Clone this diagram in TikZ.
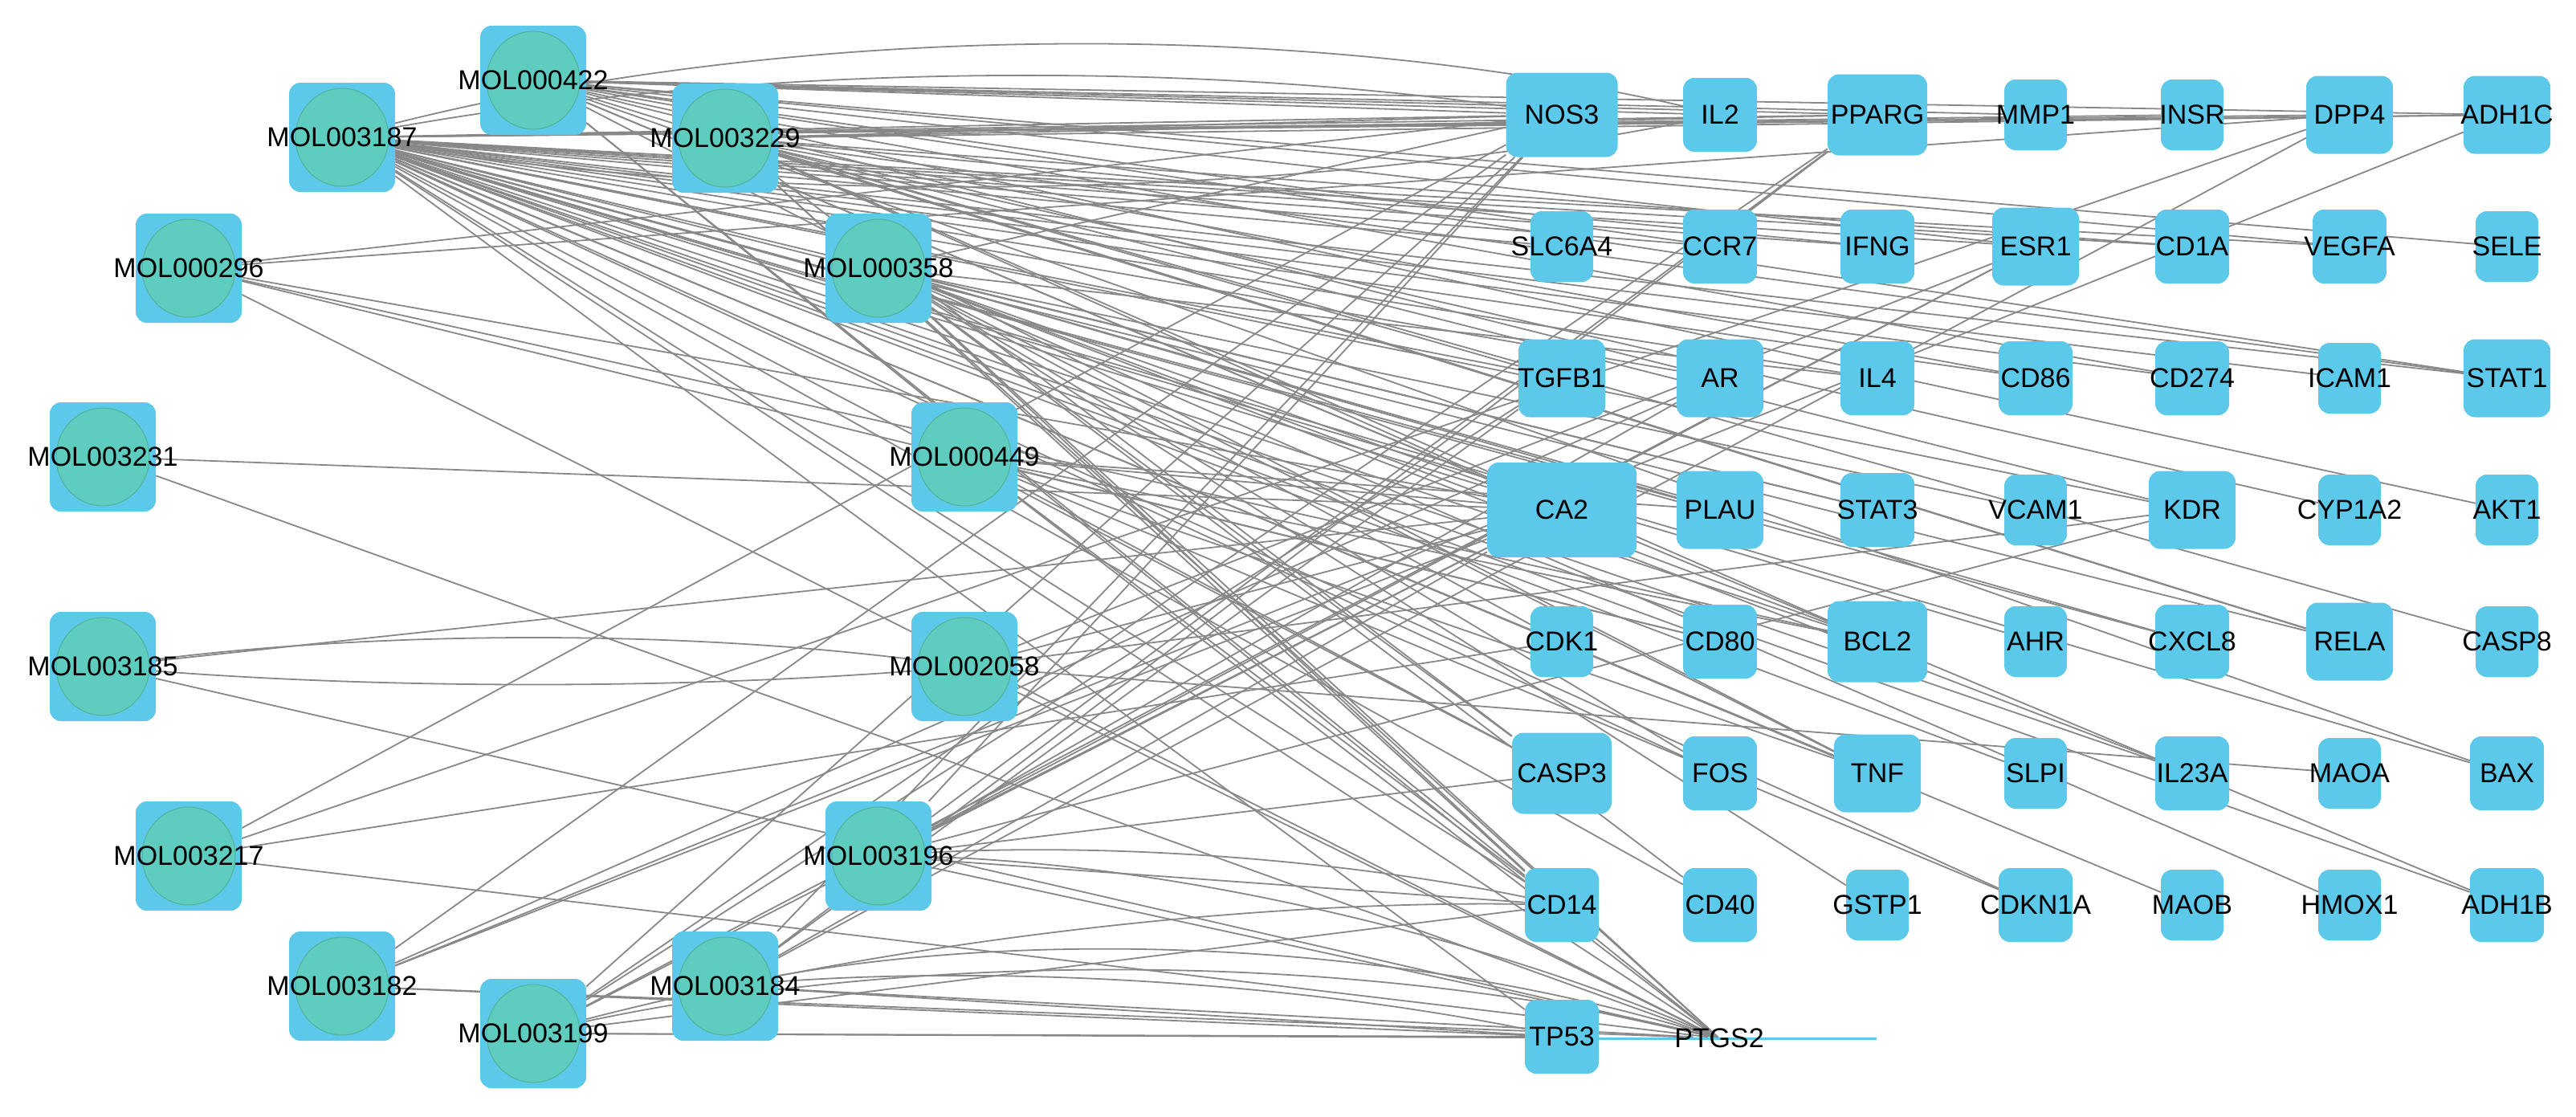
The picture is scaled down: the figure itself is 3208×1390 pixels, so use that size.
\documentclass[tikz,border=0pt]{standalone}
\usepackage{fontspec}
\setmainfont{Liberation Sans}
\usepackage{tikz}
\usetikzlibrary{backgrounds,calc}
\definecolor{nodeblue}{RGB}{92,200,234}
\definecolor{molgreen}{RGB}{94,204,190}
\definecolor{molline}{RGB}{82,178,150}
\definecolor{edgegray}{RGB}{136,136,136}

\begin{document}
\begin{tikzpicture}[
x=1pt, y=-1pt,
font=\fontsize{34pt}{40pt}\selectfont,
mol/.style={
	rectangle, rounded corners=14pt, fill=nodeblue,
	minimum width=132pt, minimum height=136pt, inner sep=0pt,
	path picture={\filldraw[fill=molgreen, draw=molline, line width=1pt]
		(path picture bounding box.center) ellipse [x radius=58pt, y radius=61pt];}
},
gene/.style={rectangle, rounded corners=14pt, fill=nodeblue, inner sep=0pt},
g1/.style={gene, minimum width=78pt, minimum height=88pt},
g2/.style={gene, minimum width=92pt, minimum height=92pt},
g3/.style={gene, minimum width=108pt, minimum height=97pt},
g4/.style={gene, minimum width=124pt, minimum height=101pt},
edge/.style={draw=edgegray, line width=1.8pt}
]
\useasboundingbox (0,0) rectangle (3208,1390);

% compounds
\node[mol, label=center:MOL000422] (m0422) at (664,100) {};
\node[mol, label=center:MOL003187] (m3187) at (426,171) {};
\node[mol, label=center:MOL003229] (m3229) at (903,172) {};
\node[mol, label=center:MOL000296] (m0296) at (235,334) {};
\node[mol, label=center:MOL000358] (m0358) at (1094,334) {};
\node[mol, label=center:MOL003231] (m3231) at (128,569) {};
\node[mol, label=center:MOL000449] (m0449) at (1201,569) {};
\node[mol, label=center:MOL003185] (m3185) at (128,830) {};
\node[mol, label=center:MOL002058] (m2058) at (1201,830) {};
\node[mol, label=center:MOL003217] (m3217) at (235,1066) {};
\node[mol, label=center:MOL003196] (m3196) at (1094,1066) {};
\node[mol, label=center:MOL003182] (m3182) at (426,1228) {};
\node[mol, label=center:MOL003184] (m3184) at (903,1228) {};
\node[mol, label=center:MOL003199] (m3199) at (664,1287) {};

% targets
\node[gene, minimum width=139pt, minimum height=105pt, label=center:NOS3] (NOS3) at (1945,143) {};
\node[g2, label=center:IL2] (IL2) at (2142,143) {};
\node[g4, label=center:PPARG] (PPARG) at (2338,143) {};
\node[g1, label=center:MMP1] (MMP1) at (2535,143) {};
\node[g1, label=center:INSR] (INSR) at (2730,143) {};
\node[g3, label=center:DPP4] (DPP4) at (2926,143) {};
\node[g3, label=center:ADH1C] (ADH1C) at (3122,143) {};

\node[g1, label=center:SLC6A4] (SLC6A4) at (1945,307) {};
\node[g2, label=center:CCR7] (CCR7) at (2142,307) {};
\node[g2, label=center:IFNG] (IFNG) at (2338,307) {};
\node[g3, label=center:ESR1] (ESR1) at (2535,307) {};
\node[g2, label=center:CD1A] (CD1A) at (2730,307) {};
\node[g2, label=center:VEGFA] (VEGFA) at (2926,307) {};
\node[g1, label=center:SELE] (SELE) at (3122,307) {};

\node[g3, label=center:TGFB1] (TGFB1) at (1945,471) {};
\node[g3, label=center:AR] (AR) at (2142,471) {};
\node[g2, label=center:IL4] (IL4) at (2338,471) {};
\node[g2, label=center:CD86] (CD86) at (2535,471) {};
\node[g2, label=center:CD274] (CD274) at (2730,471) {};
\node[g1, label=center:ICAM1] (ICAM1) at (2926,471) {};
\node[g3, label=center:STAT1] (STAT1) at (3122,471) {};

\node[gene, minimum width=186pt, minimum height=118pt, label=center:CA2] (CA2) at (1945,635) {};
\node[g3, label=center:PLAU] (PLAU) at (2142,635) {};
\node[g2, label=center:STAT3] (STAT3) at (2338,635) {};
\node[g1, label=center:VCAM1] (VCAM1) at (2535,635) {};
\node[g3, label=center:KDR] (KDR) at (2730,635) {};
\node[g1, label=center:CYP1A2] (CYP1A2) at (2926,635) {};
\node[g1, label=center:AKT1] (AKT1) at (3122,635) {};

\node[g1, label=center:CDK1] (CDK1) at (1945,799) {};
\node[g2, label=center:CD80] (CD80) at (2142,799) {};
\node[g4, label=center:BCL2] (BCL2) at (2338,799) {};
\node[g1, label=center:AHR] (AHR) at (2535,799) {};
\node[g2, label=center:CXCL8] (CXCL8) at (2730,799) {};
\node[g3, label=center:RELA] (RELA) at (2926,799) {};
\node[g1, label=center:CASP8] (CASP8) at (3122,799) {};

\node[g4, label=center:CASP3] (CASP3) at (1945,963) {};
\node[g2, label=center:FOS] (FOS) at (2142,963) {};
\node[g3, label=center:TNF] (TNF) at (2338,963) {};
\node[g1, label=center:SLPI] (SLPI) at (2535,963) {};
\node[g2, label=center:IL23A] (IL23A) at (2730,963) {};
\node[g1, label=center:MAOA] (MAOA) at (2926,963) {};
\node[g2, label=center:BAX] (BAX) at (3122,963) {};

\node[g2, label=center:CD14] (CD14) at (1945,1127) {};
\node[g2, label=center:CD40] (CD40) at (2142,1127) {};
\node[g1, label=center:GSTP1] (GSTP1) at (2338,1127) {};
\node[g2, label=center:CDKN1A] (CDKN1A) at (2535,1127) {};
\node[g1, label=center:MAOB] (MAOB) at (2730,1127) {};
\node[g1, label=center:HMOX1] (HMOX1) at (2926,1127) {};
\node[g2, label=center:ADH1B] (ADH1B) at (3122,1127) {};

\node[gene, rounded corners=0pt, minimum width=392pt, minimum height=3pt, label=center:PTGS2] (PTGS2) at (2141,1293) {};
\node[g2, label=center:TP53] (TP53) at (1945,1291) {};

\begin{pgfonlayer}{background}
\foreach \g in {NOS3,PPARG,INSR,DPP4,ADH1C,SLC6A4,CCR7,IFNG,ESR1,CD1A,VEGFA,TGFB1,AR,IL4,CD86,CD274,ICAM1,STAT1,CA2,PLAU,STAT3,KDR,CD80,BCL2,AHR,CXCL8,RELA,CASP3,FOS,TNF,SLPI,IL23A,BAX,CD14,CD40,CDKN1A,MAOB,ADH1B,TP53,PTGS2}
	\draw[edge] (m3187) -- (\g);
% doubled links drawn as arcs
\draw[edge] (m3187.center) .. controls ($(m3187)!0.3!(IL2)+(0,-136)$) and ($(m3187)!0.7!(IL2)+(0,-136)$) .. (IL2.center);
\draw[edge] (m3187.center) .. controls ($(m3187)!0.3!(IL2)+(0,100)$) and ($(m3187)!0.7!(IL2)+(0,100)$) .. (IL2.center);
\draw[edge] (m3187.center) .. controls ($(m3187)!0.3!(NOS3)+(0,-83)$) and ($(m3187)!0.7!(NOS3)+(0,-83)$) .. (NOS3.center);
\foreach \g in {NOS3,IL2,PPARG,MMP1,ADH1C,CCR7,ESR1,VEGFA,SELE,AR,CD274,STAT1,CA2,AKT1,RELA,TNF,BAX,CD14,ADH1B,PTGS2}
	\draw[edge] (m0422) -- (\g);
\foreach \g in {NOS3,PPARG,ADH1C,IFNG,CD1A,TGFB1,CD86,STAT1,CA2,KDR,CYP1A2,BCL2,RELA,CASP8,CASP3,CD14,PTGS2}
	\draw[edge] (m3229) -- (\g);
\foreach \g in {NOS3,IL4,CA2,PLAU,STAT3,VCAM1,CDK1,BCL2,CXCL8,CASP3,FOS,TNF,IL23A,CD14,CD40,GSTP1,HMOX1,PTGS2}
	\draw[edge] (m0358) -- (\g);
\foreach \g in {CA2,PLAU,CD80,BCL2,CASP3,TNF,CD14,CDKN1A,PTGS2}
	\draw[edge] (m0449) -- (\g);
\foreach \g in {NOS3,DPP4,CA2,CD80,BCL2,PTGS2}
	\draw[edge] (m0296) -- (\g);
\foreach \g in {CA2,PTGS2}
	\draw[edge] (m3231) -- (\g);
\foreach \g in {CA2,PTGS2}
	\draw[edge] (m3185) -- (\g);
\draw[edge] (m3185.center) .. controls ($(m3185)!0.3!(m2058)+(0,-48)$) and ($(m3185)!0.7!(m2058)+(0,-48)$) .. (m2058.center);
\draw[edge] (m3185.center) .. controls ($(m3185)!0.3!(m2058)+(0,30)$) and ($(m3185)!0.7!(m2058)+(0,30)$) .. (m2058.center);
\foreach \g in {NOS3,DPP4,CDK1,PTGS2}
	\draw[edge] (m3217) -- (\g);
\foreach \g in {NOS3,ADH1C,AR,CA2,TP53,PTGS2}
	\draw[edge] (m3182) -- (\g);
\foreach \g in {NOS3,PPARG,ESR1,TGFB1,CA2,CD14,TP53,PTGS2}
	\draw[edge] (m3199) -- (\g);
\draw[edge] (m3199.center) .. controls ($(m3199)!0.3!(PTGS2)+(0,-110)$) and ($(m3199)!0.7!(PTGS2)+(0,-110)$) .. (PTGS2.center);
\draw[edge] (m3199.center) .. controls ($(m3199)!0.3!(CD14)+(0,-60)$) and ($(m3199)!0.7!(CD14)+(0,-60)$) .. (CD14.center);
\foreach \g in {NOS3,PPARG,DPP4,TGFB1,CA2,TP53,PTGS2}
	\draw[edge] (m3184) -- (\g);
\draw[edge] (m3184.center) .. controls ($(m3184)!0.3!(PTGS2)+(0,-100)$) and ($(m3184)!0.7!(PTGS2)+(0,-100)$) .. (PTGS2.center);
\draw[edge] (m3184.center) .. controls ($(m3184)!0.3!(TP53)+(0,-50)$) and ($(m3184)!0.7!(TP53)+(0,-50)$) .. (TP53.center);
\foreach \g in {NOS3,PPARG,ESR1,AR,CA2,KDR,CASP3,CD14,PTGS2}
	\draw[edge] (m3196) -- (\g);
\draw[edge] (m3196.center) .. controls ($(m3196)!0.3!(CD14)+(0,-40)$) and ($(m3196)!0.7!(CD14)+(0,-40)$) .. (CD14.center);
\draw[edge] (m3196.center) .. controls ($(m3196)!0.3!(PTGS2)+(0,-70)$) and ($(m3196)!0.7!(PTGS2)+(0,-70)$) .. (PTGS2.center);
\foreach \g in {ESR1,CA2,KDR,MAOA,PTGS2}
	\draw[edge] (m2058) -- (\g);
\end{pgfonlayer}
\end{tikzpicture}
\end{document}
